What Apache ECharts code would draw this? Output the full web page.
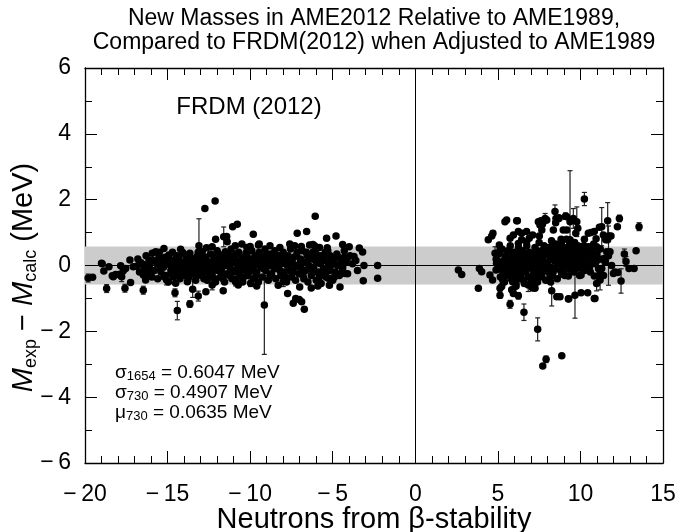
<!DOCTYPE html>
<html>
<head>
<meta charset="utf-8">
<script src="https://cdn.jsdelivr.net/npm/echarts@6.0.0/dist/echarts.min.js"></script>
<style>
  html, body { margin: 0; padding: 0; background: #fff; }
  #chart { width: 678px; height: 532px; }
</style>
</head>
<body>
<div id="chart"></div>
<script>
// values (x = neutrons from beta-stability, y = Mexp - Mcalc in MeV)
const leftPoints = [
  [-19.54,-0.36],[-19.0,0.07],[-18.96,0.05],[-18.86,-0.17],[-18.55,-0.04],[-18.35,-0.31],[-18.29,-0.34],[-18.15,-0.27],
  [-17.99,-0.27],[-17.84,-0.01],[-17.81,-0.29],[-17.69,-0.17],[-17.54,-0.09],[-17.28,0.17],[-17.24,-0.52],[-17.08,-0.04],
  [-16.88,-0.02],[-16.68,0.10],[-16.47,-0.29],[-16.33,-0.44],[-16.23,0.02],[-16.13,0.17],[-16.03,-0.14],[-15.93,0.37],
  [-15.72,0.42],[-15.58,0.07],[-15.52,0.27],[-15.42,-0.09],[-15.22,0.52],[-15.22,-0.34],[-14.92,0.32],[-14.86,0.02],
  [-14.72,-0.09],[-14.6,0.15],[-14.51,-0.54],[-14.4,-0.27],[-14.21,0.49],[-14.1,0.02],[-14.01,0.34],[-13.9,-0.17],
  [-13.8,-0.49],[-13.65,0.37],[-13.5,0.12],[-13.4,-0.19],[-13.2,0.27],[-13.0,-0.14],[-12.9,0.1],[-12.8,-0.4],
  [-12.64,0.54],[-12.55,0.0],[-12.45,-0.3],[-12.3,0.57],[-12.2,0.18],[-12.1,-0.5],[-12.0,-0.05],[-11.9,0.35],
  [-11.7,0.07],[-11.6,-0.25],[-11.5,0.42],[-11.3,0.1],[-11.2,0.3],[-11.0,-0.15],[-10.85,-0.42],[-10.72,-0.59],
  [-10.6,0.05],[-10.4,0.2],[-10.2,0.55],[-10.1,-0.22],
  [-16.8,0.2],[-16.7,-0.2],[-16.55,0.05],[-16.4,-0.1],[-16.3,0.3],[-16.2,-0.25],[-16.1,0.0],[-15.95,-0.35],
  [-15.85,0.15],[-15.8,-0.15],[-15.65,0.05],[-15.6,-0.4],[-15.5,0.4],[-15.4,-0.2],[-15.3,0.15],[-15.25,-0.05],
  [-15.15,0.25],[-15.1,-0.3],[-15.0,0.05],[-14.95,-0.5],[-14.85,0.18],[-14.8,-0.15],[-14.7,0.4],[-14.65,-0.35],
  [-14.55,0.05],[-14.45,0.3],[-14.4,-0.1],[-14.3,0.15],[-14.25,-0.4],[-14.15,0.0],[-14.1,0.4],
  [-14.0,-0.30],[-13.9,0.15],[-13.85,-0.05],[-13.7,-0.35],[-13.6,0.05],[-13.55,0.22],[-13.45,-0.25],[-13.35,0.0],
  [-13.3,-0.45],[-13.2,0.12],[-13.1,-0.1],[-13.05,0.3],[-12.95,-0.3],[-12.9,0.42],[-12.8,0.05],[-12.75,-0.2],
  [-12.7,0.25],[-12.6,-0.45],[-12.5,0.1],[-12.45,-0.1],[-12.4,0.35],[-12.3,-0.25],[-12.25,0.05],[-12.15,-0.4],
  [-12.1,0.2],[-12.0,0.45],[-11.95,-0.15],[-11.9,0.1],[-11.8,-0.35],[-11.75,0.3],[-11.7,-0.05],[-11.6,0.15],
  [-11.55,-0.5],[-11.5,0.0],[-11.4,0.35],[-11.35,-0.25],[-11.3,0.2],[-11.2,-0.1],[-11.15,0.5],[-11.1,-0.4],
  [-11.05,0.08],[-10.95,0.3],[-10.9,-0.2],[-10.8,0.12],[-10.75,-0.05],[-10.7,0.4],[-10.6,-0.3],[-10.55,0.0],
  [-10.5,0.25],[-10.45,-0.5],[-10.35,-0.12],[-10.3,0.1],[-10.25,0.38],[-10.15,-0.3],[-10.1,0.05],[-10.0,0.2],
  [-9.95,-0.15],[-9.9,0.45],[-9.8,-0.4],[-9.75,0.0],[-9.7,0.3],[-9.6,-0.2],[-9.55,0.12],[-9.5,-0.5],
  [-9.45,0.4],[-9.35,-0.05],[-9.3,0.25],[-9.25,-0.35],[-9.15,0.08],[-9.1,0.5],[-9.05,-0.15],[-8.95,0.2],
  [-8.9,-0.45],[-8.85,0.0],[-8.75,0.35],[-8.7,-0.25],[-8.65,0.1],[-8.55,-0.1],[-8.5,0.45],[-8.45,-0.4],
  [-8.35,0.18],[-8.3,-0.05],[-8.25,0.3],[-8.15,-0.3],[-8.1,0.05],[-8.0,0.4],[-7.95,-0.2],[-7.9,0.15],
  [-7.8,-0.5],[-7.75,0.0],[-7.7,0.3],[-7.6,-0.15],[-7.55,0.5],[-7.5,-0.35],[-7.45,0.1],[-7.35,0.25],
  [-7.3,-0.05],[-7.25,-0.45],[-7.15,0.4],[-7.1,0.0],[-7.05,-0.25],[-6.95,0.2],[-6.9,-0.1],[-6.85,0.45],
  [-6.75,-0.4],[-6.7,0.1],[-6.65,-0.15],[-6.55,0.3],[-6.5,-0.5],[-6.45,0.0],[-6.35,0.2],[-6.3,-0.3],
  [-6.2,0.4],[-6.15,-0.05],[-6.05,0.15],[-6.0,-0.45],[-5.9,0.3],[-5.85,-0.2],[-5.75,0.05],[-5.7,-0.55],
  [-5.6,0.25],[-5.55,-0.1],[-5.45,0.4],[-5.4,-0.35],[-5.3,0.1],[-5.2,-0.15],[-5.15,0.3],[-5.0,-0.45],
  [-4.95,0.15],[-4.85,-0.2],[-4.75,0.35],[-4.7,0.0],[-4.6,-0.3],[-4.5,0.2],[-4.4,-0.1],[-4.3,0.45],
  [-4.2,0.1],[-4.1,-0.25],[-3.95,0.3],[-3.8,0.05],[-3.6,0.15],[-3.5,-0.15],
  [-14.9,0.1],[-14.75,-0.25],[-14.35,0.25],[-14.05,-0.15],[-13.75,0.3],[-13.65,-0.15],[-13.25,-0.3],[-13.15,0.4],
  [-12.85,-0.05],[-12.65,0.15],[-12.35,-0.15],[-12.2,0.3],[-11.85,0.2],[-11.65,-0.4],[-11.45,0.25],[-11.25,-0.3],
  [-11.0,0.15],[-10.85,0.35],[-10.65,-0.15],[-10.4,-0.35],[-10.2,0.3],[-10.05,-0.05],[-9.85,0.1],[-9.65,-0.3],
  [-9.4,0.2],[-9.2,-0.1],[-9.0,0.35],[-8.8,-0.3],[-8.6,0.25],[-8.4,0.0],[-8.2,-0.15],[-8.05,0.25],
  [-7.85,-0.35],[-7.65,0.1],[-7.4,-0.2],[-7.2,0.3],[-7.0,0.05],[-6.8,-0.3],[-6.6,0.4],[-6.4,-0.1],
  [-6.25,0.3],[-6.1,-0.2],[-5.95,0.1],[-5.8,-0.35],[-5.65,0.15],[-5.5,-0.25],[-5.35,0.35],[-5.25,-0.05],
  [-5.05,0.2],[-4.9,-0.35],[-4.65,0.25],[-4.45,-0.2],
  [-9.5,0.62],[-8.8,0.6],[-8.2,0.55],[-7.6,0.65],[-7.3,0.6],[-6.9,0.58],[-6.4,0.62],[-6.1,0.6],
  [-5.8,0.55],[-10.9,0.6],[-10.5,0.65],[-10.0,0.58],
  [-9.6,-0.62],[-8.3,-0.6],[-7.0,-0.65],[-6.3,-0.68],[-5.9,-0.62],[-5.2,-0.6],
  [-12.12,1.96],[-12.74,1.73],[-6.06,1.50],[-10.78,1.25],[-11.06,1.18],[-6.58,1.03],[-7.15,0.98],[-9.81,0.95],
  [-11.42,0.88],[-11.39,0.72],[-12.09,0.80],[-9.45,0.65],[-4.80,0.90],[-5.37,0.83],[-4.40,0.64],[-4.0,0.57],
  [-3.39,0.53],[-3.19,0.41],[-3.71,0.27],[-4.12,0.22],[-3.11,0.0],[-2.28,0.0],[-2.28,-0.39],[-3.15,-0.46],
  [-4.56,-0.65],[-4.26,-0.24],[-7.73,-0.85],[-7.39,-1.15],[-7.24,-1.0],[-7.03,-1.03],[-6.88,-1.10],[-6.72,-1.33],
  [-11.63,-0.77],[-12.68,-0.80],[-4.3,0.25],[-4.56,0.04],[-4.4,-0.03],[-5.1,0.0],[-5.3,0.45],[-5.33,0.54],
  [-5.06,-0.39],[-5.27,-0.39],[-5.77,-0.31],[-6.2,0.64],[-6.0,0.5],[-5.7,0.3],[-5.5,0.15]
];

const rightPoints = [
  [2.61,-0.14],[2.81,-0.27],[3.88,-0.09],[4.02,-0.19],[3.82,-0.69],[4.42,0.78],[4.63,0.90],[4.52,-0.29],
  [4.68,-0.44],[4.89,-0.14],[4.92,0.07],[5.09,0.62],[5.13,0.47],[5.13,-0.69],[5.23,-0.64],[5.43,1.33],
  [5.53,1.38],[6.14,1.36],[5.74,0.83],[5.94,0.93],[6.24,1.03],[6.44,0.98],[6.74,1.03],[5.84,-0.74],
  [5.94,-0.85],[7.25,-0.69],[7.72,-3.05],[7.66,-0.34],[8.16,-0.36],[7.45,1.33],[7.6,1.36],[7.55,1.23],
  [8.52,1.43],[7.51,0.9],[7.66,1.08],[7.11,0.93],[6.9,0.83],[6.74,0.72],[6.44,0.78],[6.24,0.67],
  [8.36,1.08],[8.26,0.57],[8.06,0.52],[7.86,0.49],[7.72,0.29],[8.87,-2.74],[10.84,-1.0],[10.44,-0.83],
  [10.04,-0.83],[9.27,-1.02],[8.87,-0.26],[9.27,-0.32],[10.04,-0.29],[10.08,-0.09],[10.84,-0.32],[11.19,-0.24],
  [11.29,-0.09],[11.05,0.17],[11.49,0.22],[11.59,0.42],[11.73,0.9],[11.65,0.78],[11.39,0.93],[11.15,1.16],
  [10.95,0.81],[10.84,1.03],[10.48,0.98],[10.64,1.0],[10.24,0.80],[10.18,0.47],[10.48,0.57],[10.68,0.52],
  [10.98,0.57],[10.78,0.29],[10.38,0.17],[10.58,0.12],[9.98,0.27],[9.98,0.0],[9.67,0.37],[9.72,0.57],
  [9.37,0.78],[9.17,1.08],[8.96,1.08],[8.83,0.8],[9.27,0.42],[9.47,0.27],[9.07,0.12],[8.66,0.27],
  [8.56,0.57],[9.84,1.13],[9.72,0.98],[9.17,1.48],[8.7,1.43],[12.24,1.18],[13.37,0.45],[12.0,-0.24],
  [12.26,-0.21],[12.94,-0.09],[13.25,-0.09],[11.89,0.0],[12.1,-0.2],[11.85,0.9],[11.53,0.78],[11.79,0.42],
  [10.88,-1.0],[8.5,1.3],[8.7,1.45],[7.7,1.25],[7.96,1.38],[6.18,1.36],[5.9,-0.76],[6.1,-0.63],
  [7.1,-0.68],[7.2,-0.65],[9.29,-1.01],
  [4.9,0.2],[5.0,-0.1],[5.05,0.35],[5.15,-0.35],[5.2,0.05],[5.25,0.5],[5.3,-0.2],[5.35,0.15],
  [5.4,-0.5],[5.45,0.3],[5.5,0.0],[5.55,-0.3],[5.6,0.45],[5.65,0.1],[5.7,-0.15],[5.75,0.6],
  [5.8,-0.4],[5.85,0.25],[5.9,-0.05],[5.95,0.4],[6.0,-0.25],[6.05,0.1],[6.1,-0.55],[6.15,0.3],
  [6.2,-0.1],[6.25,0.55],[6.3,0.05],[6.35,-0.35],[6.4,0.2],[6.45,-0.15],[6.5,0.45],[6.55,-0.45],
  [6.6,0.0],[6.65,0.3],[6.7,-0.2],[6.75,0.6],[6.8,0.1],[6.85,-0.35],[6.9,0.4],[6.95,-0.05],
  [7.0,0.2],[7.05,-0.5],[7.1,0.35],[7.15,0.0],[7.2,-0.25],[7.25,0.55],[7.3,0.15],[7.35,-0.4],
  [7.4,0.3],[7.45,-0.1],[7.5,0.7],[7.55,0.05],[7.6,-0.3],[7.65,0.45],[7.7,0.2],[7.75,-0.15],
  [7.8,0.6],[7.85,0.0],[7.9,-0.45],[7.95,0.35],[8.0,0.1],[8.05,-0.2],[8.1,0.55],[8.15,0.25],
  [8.2,-0.05],[8.25,0.75],[8.3,-0.3],[8.35,0.4],[8.4,0.15],[8.45,-0.1],[8.5,0.65],[8.55,0.3],
  [8.6,-0.4],[8.65,0.05],[8.7,0.5],[8.75,0.2],[8.8,-0.15],[8.85,0.7],[8.9,0.35],[8.95,0.0],
  [9.0,0.55],[9.05,-0.3],[9.1,0.25],[9.15,0.8],[9.2,0.1],[9.25,0.45],[9.3,-0.1],[9.35,0.65],
  [9.4,0.3],[9.45,0.0],[9.5,0.5],[9.55,0.2],[9.6,-0.2],[9.65,0.7],[9.7,0.15],[9.75,0.4],
  [9.8,-0.05],[9.85,0.6],[9.9,0.25],[9.95,-0.3],[10.0,0.45],[10.1,0.1],[10.2,0.6],[10.25,-0.15],
  [10.3,0.3],[10.4,0.0],[10.5,0.4],[10.6,-0.2],[10.7,0.2],[10.8,0.65],[10.9,0.05],[11.0,0.35],
  [11.1,-0.1],[11.2,0.5],[11.3,0.2],[11.4,-0.3],[11.5,0.1],
  [5.6,-0.05],[6.0,0.2],[6.4,-0.3],[6.8,0.25],[7.2,0.1],[7.6,0.3],[8.0,-0.1],[8.4,0.45],
  [8.8,0.05],[9.2,0.35],[9.6,0.45],[10.0,0.05],[6.2,-0.4],[7.0,-0.35],[5.3,-0.45],[5.9,-0.5],
  [6.6,-0.55],[7.4,-0.5],[8.2,-0.5],
  [5.1,0.1],[5.35,-0.1],[5.55,0.25],[5.75,-0.3],[5.95,0.1],[6.15,-0.2],[6.35,0.4],[6.55,0.15],
  [6.75,-0.1],[6.95,0.3],[7.15,-0.15],[7.35,0.45],[7.55,-0.25],[7.75,0.35],[7.95,-0.05],[8.15,0.4],
  [8.35,-0.2],[8.55,0.1],[8.75,0.45],[8.95,-0.2],[9.15,0.5],[9.35,0.1],[9.55,0.6],[9.75,-0.1],
  [9.95,0.5],[10.15,0.3],[10.35,0.55],[10.55,-0.05],[10.75,0.4],[10.95,0.2]
];

// [x, y, half-length of error bar]
const leftErrors = [
  [-19.81,-0.38,0.12],[-18.69,-0.70,0.12],[-17.58,-0.69,0.12],[-17.78,-0.34,0.15],[-16.47,-0.75,0.12],
  [-16.6,0.05,0.12],[-14.55,-0.83,0.12],[-14.41,-1.37,0.28],[-13.65,-1.17,0.1],[-13.48,-0.72,0.25],
  [-13.14,-0.93,0.15],[-13.1,0.6,0.82],[-11.6,0.87,0.3],[-9.14,-1.2,1.5],[-8.0,-0.49,0.15],
  [-15.06,-0.44,0.15],[-12.3,-0.59,0.15],[-10.88,-0.5,0.12],[-9.97,-0.54,0.1]
];
const rightErrors = [
  [4.83,0.37,0.2],[4.7,0.98,0.08],[5.13,-0.9,0.1],[5.74,-1.18,0.12],[6.24,-0.92,0.1],[6.58,-1.42,0.25],
  [6.84,-0.59,0.2],[7.41,-1.94,0.35],[7.92,-2.85,0.1],[7.86,1.43,0.15],[8.46,1.64,0.2],[8.26,-0.77,0.46],
  [8.57,-0.95,0.08],[8.76,-0.95,0.08],[9.37,1.33,1.55],[9.67,-0.9,0.7],[9.78,1.33,0.45],[9.57,1.43,0.3],
  [9.1,1.5,0.1],[10.24,2.02,0.2],[11.29,1.18,0.58],[11.65,1.36,0.55],[11.7,0.3,0.9],[12.36,1.43,0.1],
  [13.55,1.18,0.12],[12.46,-0.47,0.37],[12.66,0.35,0.15],[12.76,0.12,0.15],[10.98,-0.55,0.22],[11.19,-0.44,0.3]
];

const band = [-0.58, 0.58];
const xTicks = { min: -20, max: 15, interval: 5 };
const yTicks = { min: -6, max: 6, interval: 2 };

const FONT = "'Liberation Sans', Arial, Helvetica, sans-serif";
const minus = v => v < 0 ? '\u2212\u2009' + Math.abs(v) : String(v);

const allPoints = leftPoints.concat(rightPoints, leftErrors.map(d => [d[0], d[1]]), rightErrors.map(d => [d[0], d[1]]));
const allErrors = leftErrors.concat(rightErrors);

var myChart = echarts.init(document.getElementById('chart'));

// shared look of the four box sides: ticks inside, no grid lines
const side = (showLabel, minorSplit, margin) => ({
  axisLine: { onZero: false, lineStyle: { color: '#000', width: 1.3 } },
  axisTick: { inside: true, length: 12, lineStyle: { color: '#000', width: 1 } },
  minorTick: { show: true, splitNumber: minorSplit, length: 7, lineStyle: { color: '#000', width: 1 } },
  splitLine: { show: false },
  axisLabel: { show: showLabel, color: '#000', fontSize: 23, fontFamily: FONT, formatter: minus, margin: margin }
});

myChart.setOption({
  animation: false,
  textStyle: { fontFamily: FONT, color: '#000' },
  grid: { left: 85, right: 15, top: 68, bottom: 69, outerBoundsMode: 'none', containLabel: false },
  xAxis: [
    Object.assign({ type: 'value', position: 'bottom', min: xTicks.min, max: xTicks.max, interval: xTicks.interval,
      name: 'Neutrons from \u03b2-stability', nameLocation: 'middle', nameGap: 42, nameMoveOverlap: false,
      nameTextStyle: { fontSize: 29, color: '#000', fontFamily: FONT } }, side(true, 5, 20)),
    Object.assign({ type: 'value', position: 'top', min: xTicks.min, max: xTicks.max, interval: xTicks.interval }, side(false, 5, 8))
  ],
  yAxis: [
    Object.assign({ type: 'value', position: 'left', min: yTicks.min, max: yTicks.max, interval: yTicks.interval,
      name: '{i|M}{s|exp}{n| \u2212 }{i|M}{s|calc}{n| (MeV)}', nameLocation: 'middle', nameGap: 45, nameRotate: 90,
      nameMoveOverlap: false,
      nameTextStyle: {
        fontSize: 29, color: '#000', fontFamily: FONT, padding: [0, 24, 0, 0],
        rich: {
          i: { fontSize: 29, fontStyle: 'italic', fontFamily: FONT, lineHeight: 32 },
          n: { fontSize: 29, fontFamily: FONT, lineHeight: 32 },
          s: { fontSize: 18, fontFamily: FONT, lineHeight: 16, verticalAlign: 'bottom' }
        }
      } }, side(true, 2, 14)),
    Object.assign({ type: 'value', position: 'right', min: yTicks.min, max: yTicks.max, interval: yTicks.interval }, side(false, 2, 8))
  ],
  graphic: [
    { type: 'text', x: 374, y: 7, z: 10,
      style: { text: 'New Masses in AME2012 Relative to AME1989,\nCompared to FRDM(2012) when Adjusted to AME1989',
        fontSize: 23, lineHeight: 24, fontFamily: FONT, fill: '#000', align: 'center', verticalAlign: 'top' } },
    { type: 'text', x: 249, y: 107, z: 10,
      style: { text: 'FRDM (2012)', fontSize: 24, fontFamily: FONT, fill: '#000', align: 'center', verticalAlign: 'middle' } },
    { type: 'text', x: 115, y: 363, z: 10,
      style: {
        text: '{g|\u03c3}{s|1654}{t| = 0.6047 MeV}\n{g|\u03c3}{s|730}{t| = 0.4907 MeV}\n{g|\u03bc}{s|730}{t| = 0.0635 MeV}',
        fontFamily: FONT, fill: '#000',
        rich: {
          g: { fontSize: 19, fontFamily: FONT, lineHeight: 20 },
          t: { fontSize: 19, fontFamily: FONT, lineHeight: 20 },
          s: { fontSize: 13, fontFamily: FONT, lineHeight: 10, verticalAlign: 'bottom' }
        }
      } }
  ],
  series: [
    {
      type: 'scatter', data: [], silent: true, z: 1,
      markArea: { silent: true, itemStyle: { color: '#cccccc' },
        data: [[{ yAxis: band[0] }, { yAxis: band[1] }]] },
      markLine: { silent: true, symbol: 'none', label: { show: false },
        lineStyle: { color: '#000', width: 1, type: 'solid' },
        data: [{ yAxis: 0 }, { xAxis: 0 }] }
    },
    {
      type: 'custom', z: 3, data: allErrors, encode: { x: 0, y: 1 },
      renderItem: function (params, api) {
        const x = api.value(0), y = api.value(1), e = api.value(2);
        const top = api.coord([x, y + e]);
        const bot = api.coord([x, y - e]);
        const cw = 2.5;
        const st = { stroke: '#222', lineWidth: 1.2 };
        return { type: 'group', children: [
          { type: 'line', shape: { x1: top[0], y1: top[1], x2: bot[0], y2: bot[1] }, style: st },
          { type: 'line', shape: { x1: top[0] - cw, y1: top[1], x2: top[0] + cw, y2: top[1] }, style: st },
          { type: 'line', shape: { x1: bot[0] - cw, y1: bot[1], x2: bot[0] + cw, y2: bot[1] }, style: st }
        ] };
      }
    },
    {
      type: 'scatter', z: 4, data: allPoints, symbolSize: 7.5,
      itemStyle: { color: '#000', opacity: 1 }
    }
  ]
});
</script>
</body>
</html>
